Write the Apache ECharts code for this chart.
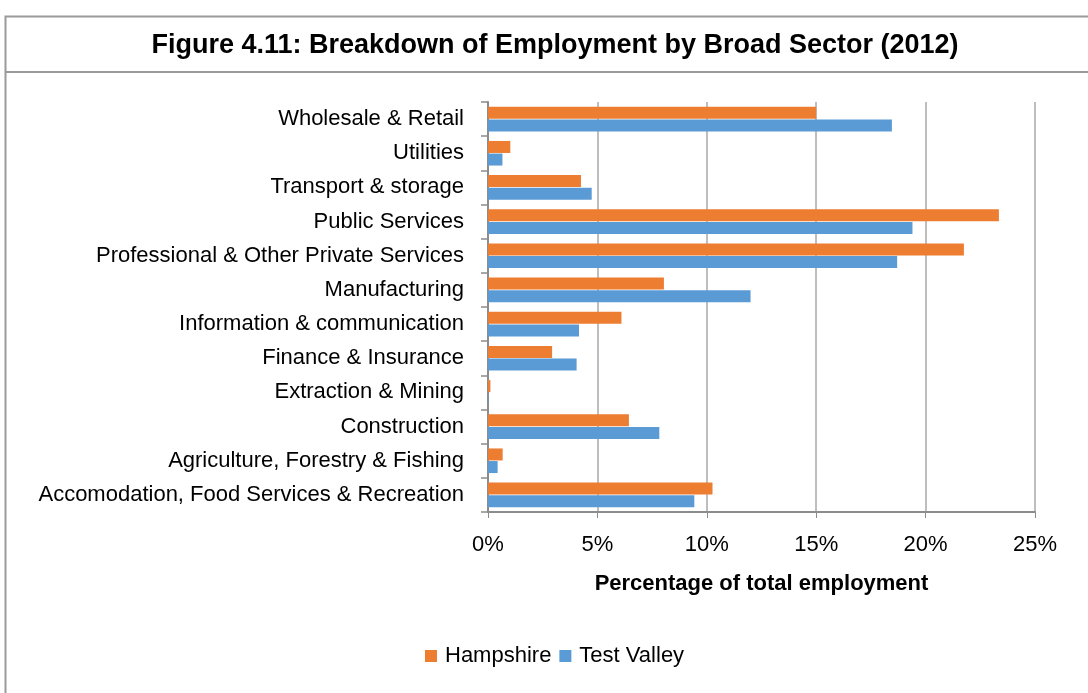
<!DOCTYPE html>
<html>
<head>
<meta charset="utf-8">
<script src="https://cdn.jsdelivr.net/npm/echarts@6/dist/echarts.min.js"></script>
<style>
  html, body { margin: 0; padding: 0; background: #fff; }
  #chart { width: 1088px; height: 693px; }
</style>
</head>
<body>
<div id="chart"></div>
<script>
// Sectors listed bottom-to-top as the category axis draws them
const sectors = [
  'Accomodation, Food Services & Recreation',
  'Agriculture, Forestry & Fishing',
  'Construction',
  'Extraction & Mining',
  'Finance & Insurance',
  'Information & communication',
  'Manufacturing',
  'Professional & Other Private Services',
  'Public Services',
  'Transport & storage',
  'Utilities',
  'Wholesale & Retail'
];
// Share of total employment (%)
const hampshire = [10.26, 0.67, 6.44, 0.11, 2.93, 6.1, 8.04, 21.75, 23.35, 4.25, 1.02, 15.0];
const testValley = [9.43, 0.44, 7.83, 0.02, 4.05, 4.16, 12.0, 18.7, 19.4, 4.74, 0.66, 18.46];
const xTicks = [0, 5, 10, 15, 20, 25];

const FONT = "'Liberation Sans Narrow', 'Arial Narrow', 'Liberation Sans', Arial, sans-serif";
const chart = echarts.init(document.getElementById('chart'), null, { renderer: 'canvas' });

chart.setOption({
  animation: false,
  backgroundColor: '#ffffff',
  textStyle: { fontFamily: FONT },
  title: {
    text: 'Figure 4.11: Breakdown of Employment by Broad Sector (2012)',
    left: 550, top: 27, textAlign: 'center',
    textStyle: { fontFamily: "'Liberation Sans', Arial, sans-serif", fontWeight: 'bold', fontSize: 27, color: '#000' }
  },
  graphic: [
    { type: 'rect', shape: { x: 5.5, y: 16.5, width: 1100, height: 700 },
      style: { fill: 'none', stroke: '#9a9a9a', lineWidth: 2 }, z: -1 },
    { type: 'line', shape: { x1: 5, y1: 72, x2: 1088, y2: 72 },
      style: { stroke: '#9a9a9a', lineWidth: 2 }, z: -1 }
  ],
  legend: {
    data: ['Hampshire', 'Test Valley'],
    left: 420, top: 640,
    icon: 'rect', itemWidth: 12, itemHeight: 12, itemGap: 8,
    textStyle: { fontFamily: FONT, fontSize: 22, color: '#000', padding: [0, 0, 0, 3] }
  },
  grid: { left: 488, right: 53, top: 102, bottom: 181, containLabel: false },
  xAxis: {
    type: 'value', min: 0, max: 25, interval: 5,
    axisLine: { show: true, lineStyle: { color: '#8c8c8c', width: 2 } },
    axisTick: { show: true, length: 6, lineStyle: { color: '#8c8c8c', width: 1 } },
    splitLine: { show: true, lineStyle: { color: '#a8a8a8', width: 1.5 } },
    axisLabel: {
      margin: 22, fontSize: 22, color: '#000', fontFamily: FONT,
      formatter: v => (xTicks.includes(v) ? v + '%' : '')
    },
    name: 'Percentage of total employment',
    nameLocation: 'middle', nameGap: 61,
    nameTextStyle: { fontFamily: FONT, fontWeight: 'bold', fontSize: 22, color: '#000' }
  },
  yAxis: {
    type: 'category', data: sectors,
    axisLine: { show: true, lineStyle: { color: '#8c8c8c', width: 2 } },
    axisTick: { show: true, length: 7, lineStyle: { color: '#8c8c8c', width: 1.5 } },
    axisLabel: { margin: 24, fontSize: 22, color: '#000', fontFamily: FONT }
  },
  series: [
    { name: 'Hampshire', type: 'bar', data: hampshire, barWidth: 12, barGap: '5%',
      itemStyle: { color: '#ed7d31' } },
    { name: 'Test Valley', type: 'bar', data: testValley, barWidth: 12, barGap: '5%',
      itemStyle: { color: '#5b9bd5' } }
  ]
});
</script>
</body>
</html>
